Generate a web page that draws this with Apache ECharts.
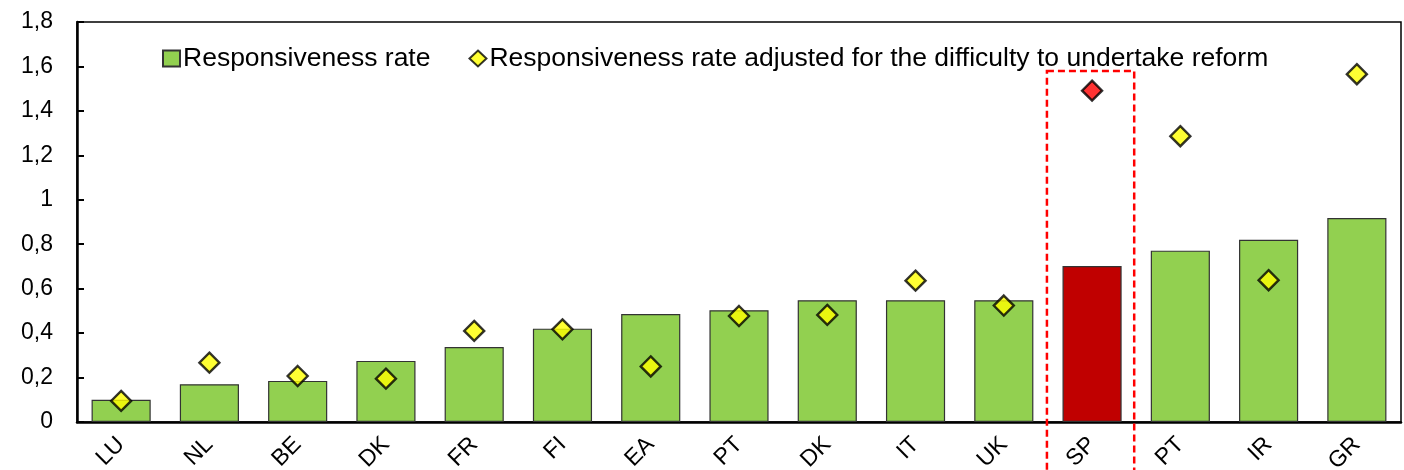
<!DOCTYPE html>
<html>
<head>
<meta charset="utf-8">
<script src="https://cdn.jsdelivr.net/npm/echarts@6/dist/echarts.min.js"></script>
<style>
  html, body { margin: 0; padding: 0; background: #fff; }
  #chart { width: 1404px; height: 470px; }
</style>
</head>
<body>
<div id="chart"></div>
<script>
// countries, in the order of the chart
const categories = ['LU', 'NL', 'BE', 'DK', 'FR', 'FI', 'EA', 'PT', 'DK', 'IT', 'UK', 'SP', 'PT', 'IR', 'GR']
// responsiveness rate (bars)
const rateValues = [0.10, 0.17, 0.185, 0.275, 0.337, 0.42, 0.486, 0.503, 0.548, 0.548, 0.548, 0.702, 0.771, 0.82, 0.918]
// adjusted for the difficulty to undertake reform (diamonds)
const adjustedValues = [0.095, 0.267, 0.207, 0.195, 0.41, 0.417, 0.25, 0.477, 0.482, 0.636, 0.524, 1.491, 1.286, 0.638, 1.565]
const yTicks = [0, 0.2, 0.4, 0.6, 0.8, 1, 1.2, 1.4, 1.6, 1.8]
const highlightIndex = 11
const boxTop = 1.58

const font = 'Liberation Sans, Arial, sans-serif'
const green = '#92D050'
const yellow = '#FFFF00'

const chart = echarts.init(document.getElementById('chart'))

const barData = rateValues.map((v, i) => {
  if (i === highlightIndex) {
    return { value: v, itemStyle: { color: '#C00000' } }
  }
  return v
})
const dotData = adjustedValues.map((v, i) => {
  if (i === highlightIndex) {
    return { value: v, itemStyle: { color: '#FF0000' } }
  }
  return v
})

chart.setOption({
  animation: false,
  backgroundColor: '#fff',
  textStyle: { fontFamily: font },
  grid: {
    left: 77,
    right: 3,
    top: 22,
    bottom: 48,
    containLabel: false,
    outerBoundsMode: 'none',
    show: true,
    borderColor: '#000',
    borderWidth: 1.5
  },
  legend: {
    left: 157,
    top: 40,
    itemWidth: 17,
    itemHeight: 16,
    itemGap: 38,
    textStyle: { fontSize: 26.5, color: '#000', fontFamily: font, padding: [0, 0, 0, -2] },
    data: [
      { name: 'Responsiveness rate', icon: 'rect' },
      { name: 'Responsiveness rate adjusted for the difficulty to undertake reform', icon: 'diamond' }
    ]
  },
  xAxis: {
    type: 'category',
    data: categories,
    axisLine: { lineStyle: { color: '#000', width: 2.5 } },
    axisTick: { inside: true, length: 7, lineStyle: { color: '#000', width: 2 } },
    axisLabel: { rotate: 45, fontSize: 23, color: '#000', margin: 19, fontFamily: font }
  },
  yAxis: {
    type: 'value',
    min: 0,
    max: 1.8,
    interval: 0.2,
    splitLine: { show: false },
    axisLine: { show: true, lineStyle: { color: '#000', width: 2.5 } },
    axisTick: { show: true, inside: true, length: 7, lineStyle: { color: '#000', width: 2 } },
    axisLabel: {
      fontSize: 23,
      color: '#000',
      margin: 24,
      fontFamily: font,
      formatter: function (v) {
        const t = yTicks.find(x => Math.abs(x - v) < 1e-6)
        return String(t === undefined ? v : t).replace('.', ',')
      }
    }
  },
  series: [
    {
      name: 'Responsiveness rate',
      type: 'bar',
      barWidth: '67%',
      data: barData,
      itemStyle: { color: green, borderColor: '#333', borderWidth: 1.2 }
    },
    {
      name: 'Responsiveness rate adjusted for the difficulty to undertake reform',
      type: 'scatter',
      symbol: 'diamond',
      symbolSize: 20,
      data: dotData,
      z: 5,
      itemStyle: { color: yellow, borderColor: '#000', borderWidth: 2.4 }
    }
  ]
})

// dashed box around the highlighted country
const topLeft = chart.convertToPixel({ gridIndex: 0 }, [highlightIndex, boxTop])
const catW = chart.convertToPixel({ xAxisIndex: 0 }, 1) - chart.convertToPixel({ xAxisIndex: 0 }, 0)
chart.setOption({
  graphic: [{
    type: 'rect',
    z: 10,
    shape: {
      x: topLeft[0] - catW / 2 - 1,
      y: topLeft[1],
      width: catW - 1,
      height: 480 - topLeft[1]
    },
    style: { fill: 'none', stroke: '#FF0000', lineWidth: 2.5, lineDash: [7, 4] }
  }]
})
</script>
</body>
</html>
